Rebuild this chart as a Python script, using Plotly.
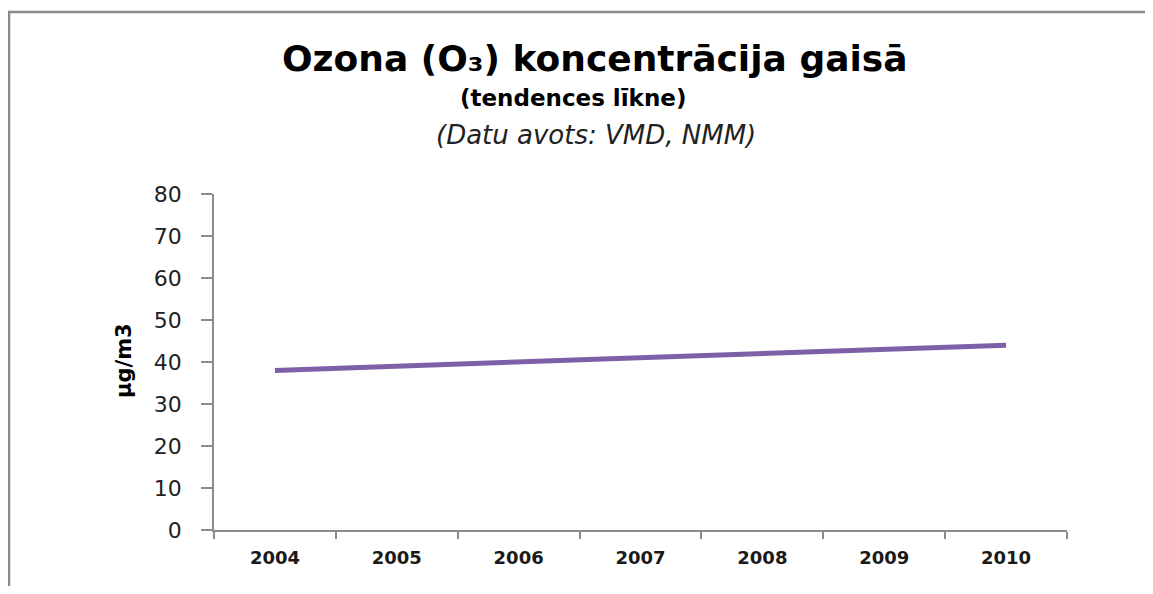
import plotly.graph_objects as go

years = ["2004", "2005", "2006", "2007", "2008", "2009", "2010"]
ozone = [38, 39, 40, 41, 42, 43, 44]
y_ticks = [0, 10, 20, 30, 40, 50, 60, 70, 80]

title_main = "Ozona (O₃) koncentrācija gaisā"
title_sub = "(tendences līkne)"
title_src = "(Datu avots: VMD, NMM)"
y_label = "µg/m3"

OFF = 8  # default page body margin
W, H = 1137, 578
L, R, T, B = 206, 78, 186, 56
pw, ph = W - L - R, H - T - B

def px(x):
    # page x -> paper x
    return (x - OFF - L) / pw

def py(y):
    # page y -> paper y
    return (H - B - (y - OFF)) / ph

fig = go.Figure()
fig.add_trace(go.Scatter(
    x=years, y=ozone, mode="lines",
    line=dict(color="#7D60A8", width=5),
    showlegend=False, hoverinfo="x+y",
))

axis_col = "#8C8C8C"
fig.update_layout(
    width=W, height=H,
    margin=dict(l=L, r=R, t=T, b=B, pad=0),
    paper_bgcolor="white", plot_bgcolor="white",
    xaxis=dict(
        type="category", range=[-0.5, 6.5],
        showgrid=False, zeroline=False,
        showline=True, linecolor=axis_col, linewidth=1.5,
        ticks="outside", tickson="boundaries", ticklen=7, tickcolor=axis_col, tickwidth=1.5,
        tickfont=dict(family="DejaVu Sans", size=18, color="#1a1a1a", weight="bold"),
        ticklabelstandoff=11,
    ),
    yaxis=dict(
        range=[0, 80], tickvals=y_ticks,
        showgrid=False, zeroline=False,
        showline=True, linecolor=axis_col, linewidth=1.5,
        ticks="outside", ticklen=11, tickcolor=axis_col, tickwidth=1.5,
        tickfont=dict(family="DejaVu Sans", size=22, color="#222222"),
        ticklabelstandoff=15,
    ),
    font=dict(family="DejaVu Sans"),
)

fig.add_annotation(text=title_main, x=px(594.5), y=py(58), xref="paper", yref="paper",
                   showarrow=False, xanchor="center", yanchor="middle",
                   font=dict(family="DejaVu Sans", size=36, color="black", weight="bold"))
fig.add_annotation(text=title_sub, x=px(572.5), y=py(98), xref="paper", yref="paper",
                   showarrow=False, xanchor="center", yanchor="middle",
                   font=dict(family="DejaVu Sans", size=23, color="black", weight="bold"))
fig.add_annotation(text="<i>" + title_src + "</i>", x=px(595.5), y=py(135), xref="paper", yref="paper",
                   showarrow=False, xanchor="center", yanchor="middle",
                   font=dict(family="DejaVu Sans", size=26, color="#222222"))
fig.add_annotation(text=y_label, x=px(124), y=py(361), xref="paper", yref="paper",
                   showarrow=False, xanchor="center", yanchor="middle", textangle=-90,
                   font=dict(family="DejaVu Sans", size=21, color="black", weight="bold"))

# outer chart frame: top and left edges only (the rest lies beyond the picture)
frame = dict(color="#8A8A8A", width=2.5)
fig.add_shape(type="line", xref="paper", yref="paper",
              x0=px(8), x1=px(1300), y0=py(12), y1=py(12), line=frame, layer="below")
fig.add_shape(type="line", xref="paper", yref="paper",
              x0=px(9), x1=px(9), y0=py(11), y1=py(700), line=frame, layer="below")

fig.write_html("out.html")
